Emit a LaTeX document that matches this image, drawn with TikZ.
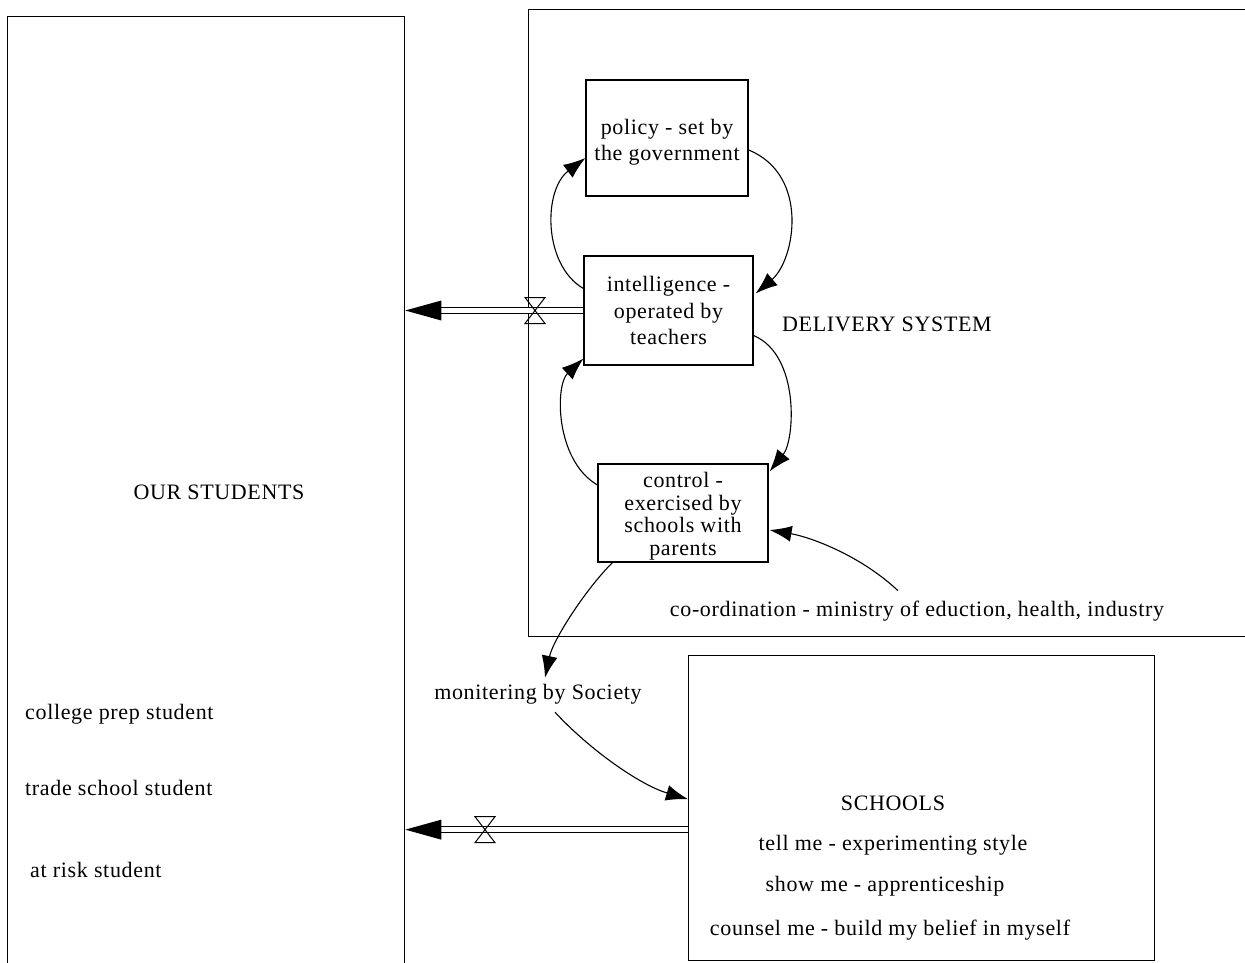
\documentclass[tikz,border=0pt]{standalone}
\usepackage{fontspec}
\setmainfont{Liberation Serif}[LetterSpace=3]
\usetikzlibrary{arrows.meta,calc}

\begin{document}
\begin{tikzpicture}[x=1pt,y=-1pt,
  frame/.style={draw, line width=1.3pt, rectangle, inner sep=0pt},
  lbl/.style={font=\fontsize{22}{26.5}\selectfont, inner sep=0pt},
  link/.style={line width=1.1pt, -{Latex[length=22pt,width=16pt]}},
  pipe/.style={draw, double, double distance=4.5pt, line width=1pt},
  valve/.style={line width=1pt}]
\useasboundingbox (0,0) rectangle (1245,962);
\clip (0,0) rectangle (1245,962);

% sectors
\node[frame, minimum width=397pt, minimum height=1000pt, anchor=north west] (students) at (7,16) {};
\node[frame, minimum width=760pt, minimum height=627pt, anchor=north west] (delivery) at (528,9) {};
\node[frame, minimum width=466pt, minimum height=305pt, anchor=north west] (schools) at (688,655) {};

\node[lbl] (studentsT) at (219,492) {OUR STUDENTS};
\node[lbl, anchor=west] (s1) at (25,714) {college prep student};
\node[lbl, anchor=west] (s2) at (25,788) {trade school student};
\node[lbl, anchor=west] (s3) at (30,870) {at risk student};

\node[lbl] (deliveryT) at (887,324) {DELIVERY SYSTEM};

% stages of the delivery system
\node[frame, line width=1.2pt, minimum width=162pt, minimum height=116pt] (policy) at (667,138) {};
\node[lbl, align=center] (policyT) at (667,142) {policy - set by\\the government};
\node[frame, lbl, line width=1.2pt, minimum width=169pt, minimum height=109pt, align=center] (intel) at (668.5,310.5) {intelligence -\\operated by\\teachers};
\node[frame, line width=1.2pt, minimum width=170pt, minimum height=98pt] (control) at (683,513) {};
\node[lbl, align=center, font=\fontsize{22}{22.5}\selectfont] (controlT) at (683,516) {control -\\exercised by\\schools with\\parents};

\node[lbl] (coord) at (917,611) {co-ordination - ministry of eduction, health, industry};
\node[lbl] (monit) at (538,694) {monitering by Society};

% schools
\node[lbl] (schoolsT) at (893,803) {SCHOOLS};
\node[lbl] (tell) at (893,845) {tell me - experimenting style};
\node[lbl] (show) at (885,886) {show me - apprenticeship};
\node[lbl] (counsel) at (890,930) {counsel me - build my belief in myself};

% feedback loops
\draw[link] ($(intel.west)+(0,-22)$) .. controls (543,265) and (543,190) .. ($(policy.west)+(0,20)$);
\draw[link] ($(policy.east)+(0,12)$) .. controls (810,175) and (795,260) .. ($(intel.east)+(2,-17)$);
\draw[link] ($(intel.east)+(0,25)$) .. controls (800,355) and (795,440) .. ($(control.north east)+(1,8)$);
\draw[link] ($(control.west)+(0,-28)$) .. controls (555,460) and (555,385) .. ($(intel.south west)+(0,-7)$);

\draw[link] ($(control.south west)+(15,0)$) .. controls (585,590) and (553,640) .. ($(monit.north)+(7,-6)$);
\draw[link] ($(monit.south)+(17,8)$) .. controls (590,750) and (640,785) .. ($(schools.west)+(0,-9)$);
\draw[link] ($(coord.north)+(-19,-10)$) .. controls (860,555) and (810,537) .. ($(control.east)+(1,17)$);

% flows into the students sector
\coordinate (f1) at (students.east |- intel.west);
\draw[pipe] (intel.west) -- ($(f1)+(34,0)$);
\fill (f1) -- ++(36,-10) -- ++(0,20) -- cycle;
\coordinate (v1) at (535,0 |- intel.west);
\draw[valve] (v1) ++(-10,-13) -- ++(20,0) -- ++(-20,26) -- ++(20,0) -- cycle;

\coordinate (o2) at ($(schools.west)+(0,21.5)$);
\coordinate (f2) at (students.east |- o2);
\draw[pipe] (o2) -- ($(f2)+(34,0)$);
\fill (f2) -- ++(36,-10) -- ++(0,20) -- cycle;
\coordinate (v2) at (485,0 |- o2);
\draw[valve] (v2) ++(-10,-13) -- ++(20,0) -- ++(-20,26) -- ++(20,0) -- cycle;
\end{tikzpicture}
\end{document}
